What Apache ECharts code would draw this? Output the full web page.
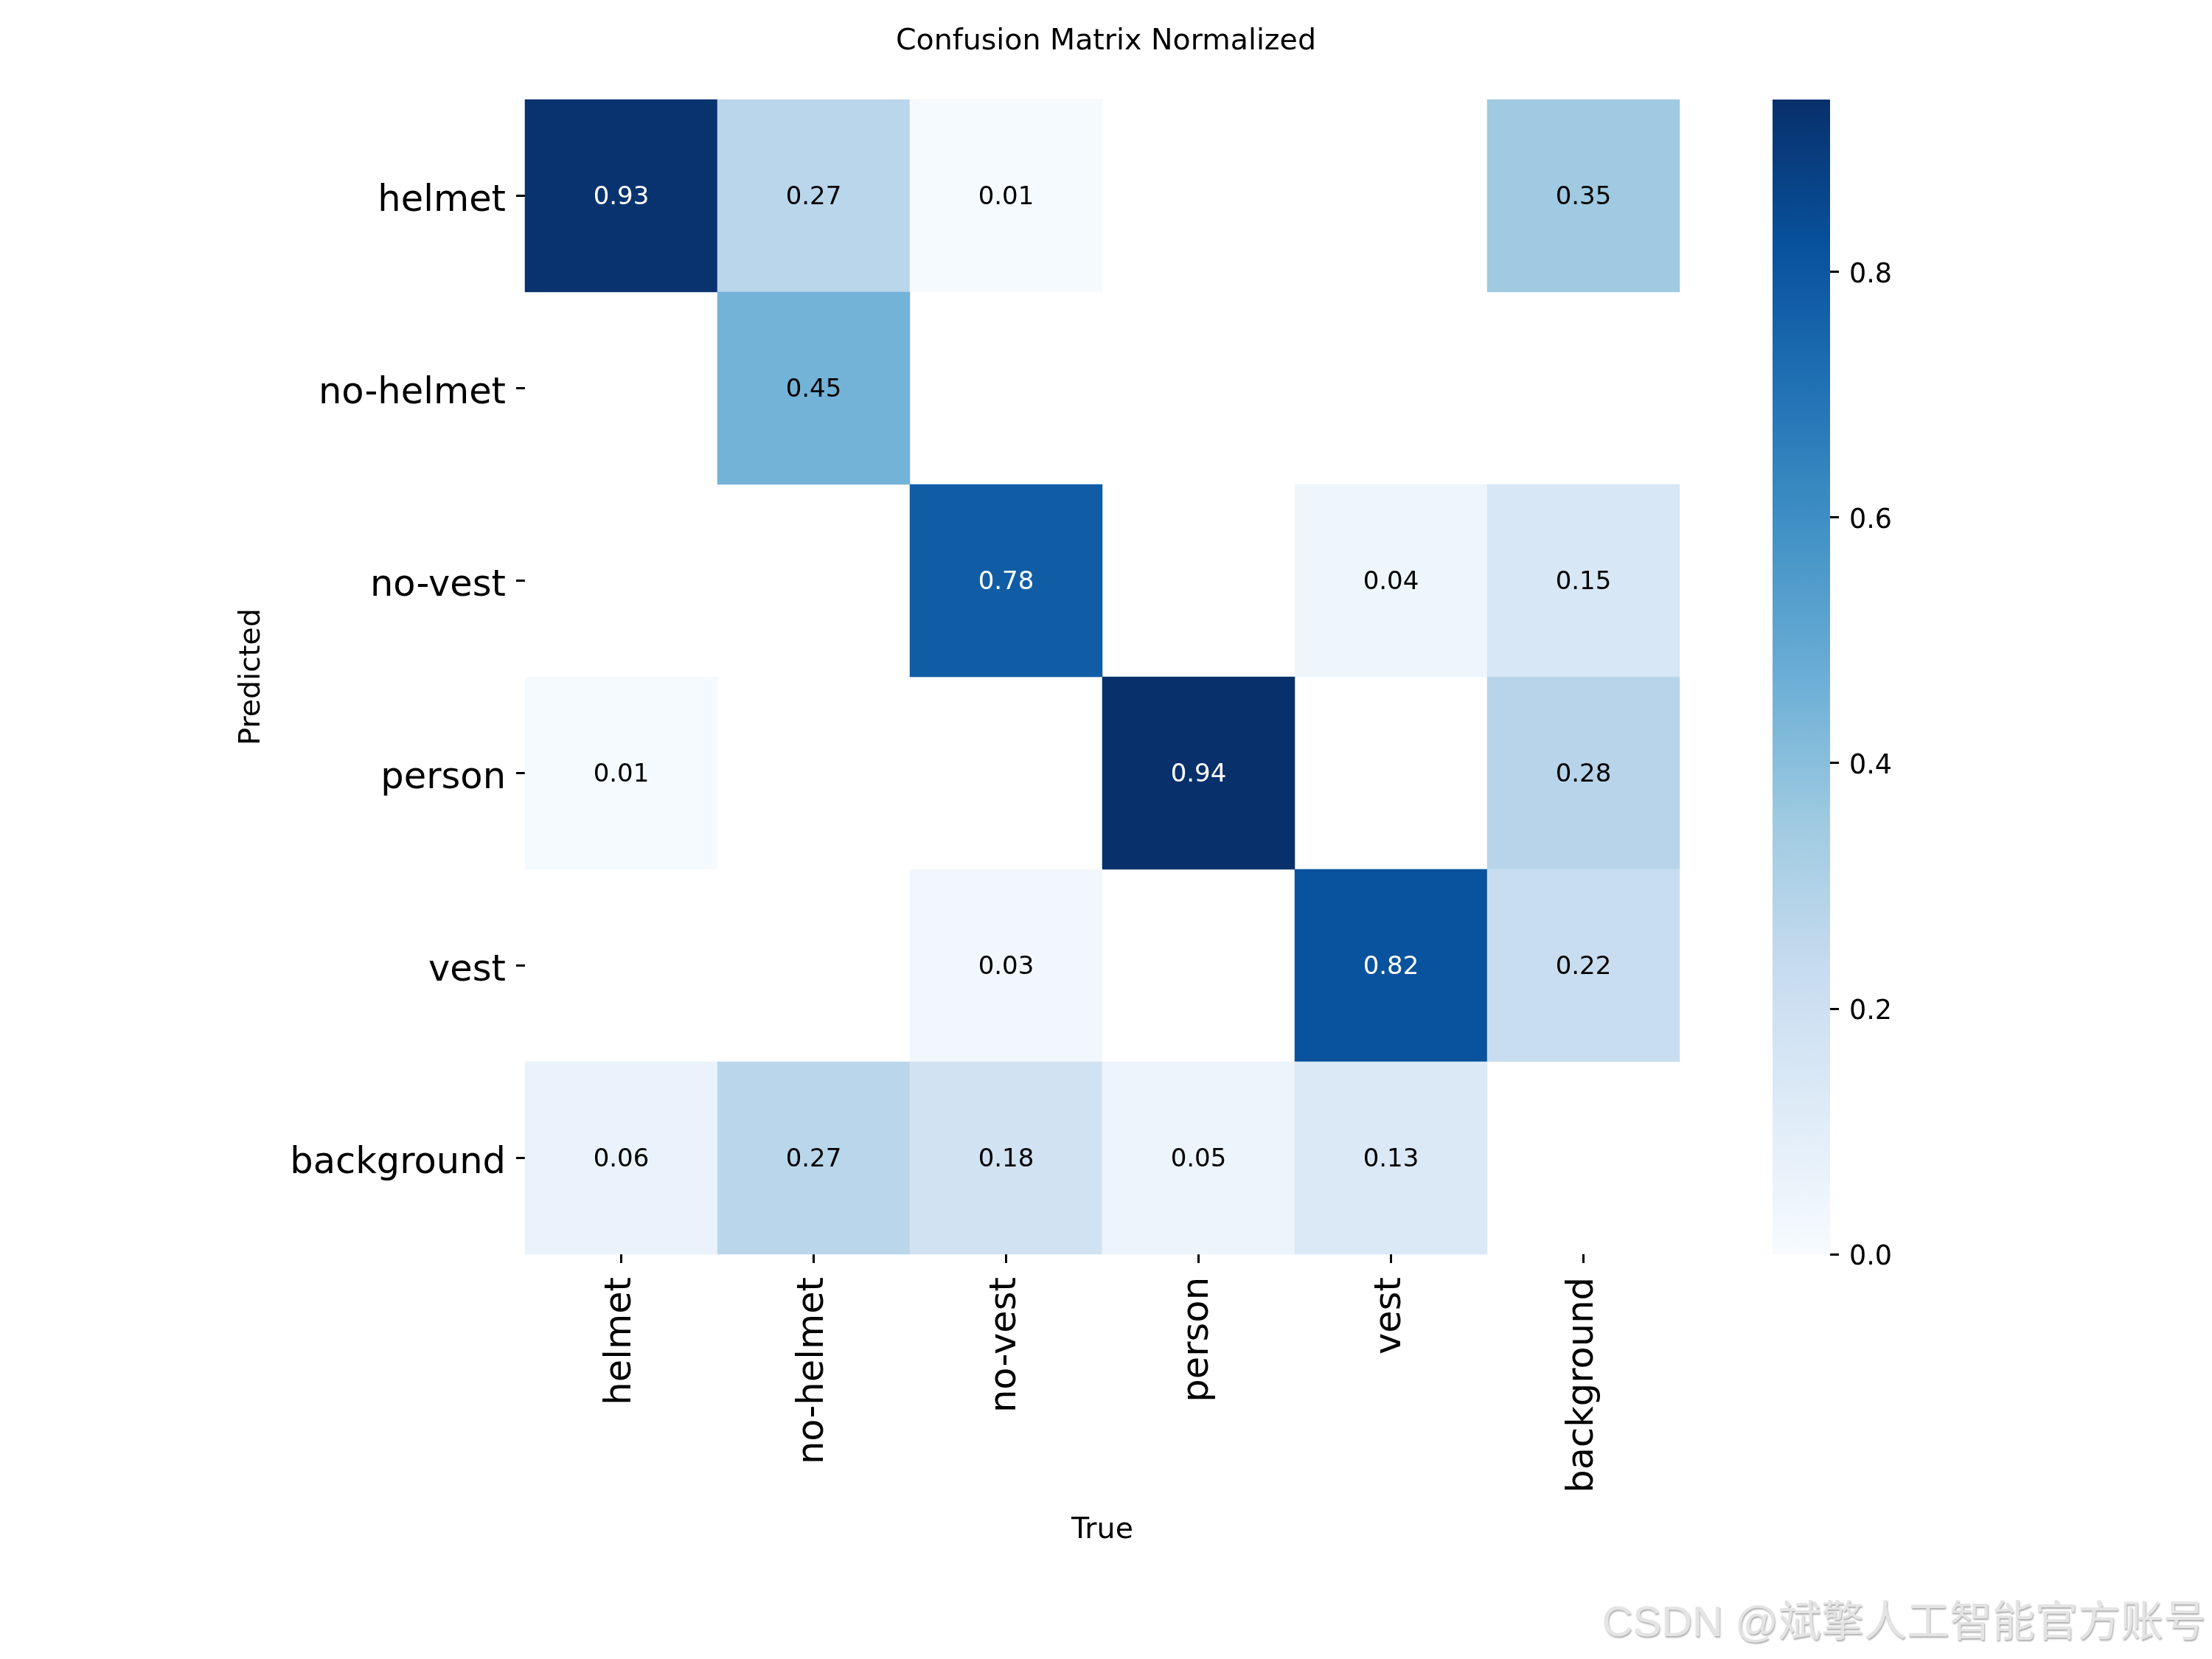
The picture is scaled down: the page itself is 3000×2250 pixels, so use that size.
<!DOCTYPE html>
<html>
<head>
<meta charset="utf-8">
<script src="https://cdn.jsdelivr.net/npm/echarts@6/dist/echarts.min.js"></script>
<style>
html,body{margin:0;padding:0;background:#fff;}
#chart{width:3000px;height:2250px;}
</style>
</head>
<body>
<div id="chart"></div>
<script>
// ---- Data ----
const trueLabels = ['helmet', 'no-helmet', 'no-vest', 'person', 'vest', 'background'];
const predLabels = ['helmet', 'no-helmet', 'no-vest', 'person', 'vest', 'background'];
// rows = predicted class, columns = true class (0 = empty cell)
const predHelmet     = [0.93, 0.27, 0.01, 0.00, 0.00, 0.35];
const predNoHelmet   = [0.00, 0.45, 0.00, 0.00, 0.00, 0.00];
const predNoVest     = [0.00, 0.00, 0.78, 0.00, 0.04, 0.15];
const predPerson     = [0.01, 0.00, 0.00, 0.94, 0.00, 0.28];
const predVest       = [0.00, 0.00, 0.03, 0.00, 0.82, 0.22];
const predBackground = [0.06, 0.27, 0.18, 0.05, 0.13, 0.00];
const colorbarTicks = [0, 0.2, 0.4, 0.6, 0.8];
const blues = ['#f7fbff', '#deebf7', '#c6dbef', '#9ecae1', '#6baed6', '#4292c6', '#2171b5', '#08519c', '#08306b'];

const rows = [predHelmet, predNoHelmet, predNoVest, predPerson, predVest, predBackground];
const vmax = Math.max(...rows.flat());

const cells = [];
rows.forEach((row, r) => {
  row.forEach((v, c) => {
    if (v >= 0.005) {
      cells.push({
        value: [c, r, v],
        label: { color: v > 0.6 ? '#ffffff' : '#000000' }
      });
    }
  });
});

const FONT = 'DejaVu Sans';
const chart = echarts.init(document.getElementById('chart'), null, { renderer: 'canvas' });

const gradStops = blues.map((col, i) => ({ offset: 1 - i / (blues.length - 1), color: col }));

chart.setOption({
  animation: false,
  backgroundColor: '#ffffff',
  title: {
    text: 'Confusion Matrix Normalized',
    left: 'center',
    top: 37,
    padding: 0,
    textStyle: { fontFamily: FONT, fontSize: 39.5, fontWeight: 'normal', color: '#000' }
  },
  grid: [
    { left: 712, top: 135, width: 1566, height: 1566 },
    { left: 2404, top: 135, width: 78, height: 1566 }
  ],
  xAxis: [
    {
      type: 'category',
      gridIndex: 0,
      data: trueLabels,
      name: 'True',
      nameLocation: 'middle',
      nameGap: 355,
      nameTextStyle: { fontFamily: FONT, fontSize: 39.5, color: '#000' },
      axisLine: { show: false },
      axisTick: { show: true, alignWithLabel: true, length: 12, lineStyle: { color: '#000', width: 3 } },
      axisLabel: { rotate: 90, margin: 31, fontFamily: FONT, fontSize: 49.5, color: '#000', interval: 0 },
      splitLine: { show: false }
    },
    {
      type: 'category',
      gridIndex: 1,
      data: [''],
      show: false
    }
  ],
  yAxis: [
    {
      type: 'category',
      gridIndex: 0,
      data: predLabels,
      inverse: true,
      name: 'Predicted',
      nameLocation: 'middle',
      nameRotate: 90,
      nameGap: 350,
      nameTextStyle: { fontFamily: FONT, fontSize: 39.5, color: '#000' },
      axisLine: { show: false },
      axisTick: { show: true, alignWithLabel: true, length: 12, lineStyle: { color: '#000', width: 3 } },
      axisLabel: { margin: 26, fontFamily: FONT, fontSize: 49.5, color: '#000', interval: 0, verticalAlign: 'top', lineHeight: 16 },
      splitLine: { show: false }
    },
    {
      type: 'value',
      gridIndex: 1,
      position: 'right',
      min: 0,
      max: vmax,
      axisLine: { show: false },
      axisTick: { show: true, length: 12, customValues: colorbarTicks, lineStyle: { color: '#000', width: 3 } },
      axisLabel: { margin: 26, fontFamily: FONT, fontSize: 36.5, color: '#000', customValues: colorbarTicks, formatter: v => v.toFixed(1), verticalAlign: 'top', lineHeight: 10 },
      splitLine: { show: false }
    }
  ],
  visualMap: {
    type: 'continuous',
    show: false,
    min: 0,
    max: vmax,
    dimension: 2,
    seriesIndex: 0,
    inRange: { color: blues }
  },
  series: [
    {
      type: 'heatmap',
      xAxisIndex: 0,
      yAxisIndex: 0,
      data: cells,
      label: {
        show: true,
        fontFamily: FONT,
        fontSize: 34,
        offset: [0, 3],
        formatter: p => p.value[2].toFixed(2)
      },
      itemStyle: { borderWidth: 0 },
      emphasis: { disabled: true }
    },
    {
      type: 'bar',
      xAxisIndex: 1,
      yAxisIndex: 1,
      data: [vmax],
      barWidth: '100%',
      itemStyle: {
        color: { type: 'linear', x: 0, y: 0, x2: 0, y2: 1, colorStops: gradStops }
      },
      silent: true
    }
  ],
  graphic: [
    {
      type: 'text',
      right: 8,
      top: 2174,
      style: {
        text: 'CSDN @斌擎人工智能官方账号',
        fontFamily: 'Liberation Sans, Noto Sans CJK SC',
        fontSize: 58,
        fill: '#e4e4e4',
        textShadowColor: 'rgba(120,120,120,0.6)',
        textShadowOffsetX: 1,
        textShadowOffsetY: 2,
        textShadowBlur: 2
      }
    }
  ]
});
</script>
</body>
</html>
